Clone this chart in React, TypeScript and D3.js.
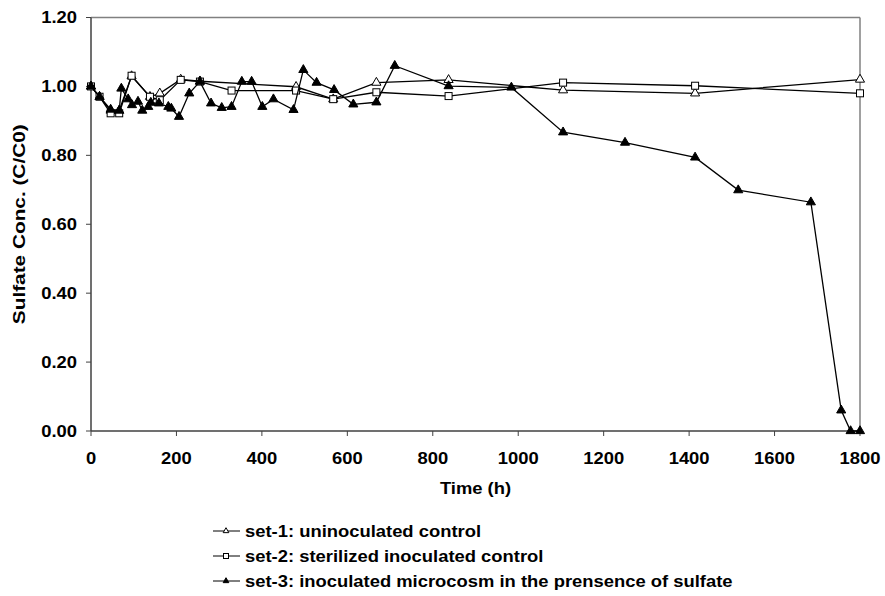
import React from "react";
import * as d3 from "d3";

// time (h) and C/C0 for each set
const set1Time = [0, 20, 46, 66, 95, 138, 161, 210, 255, 480, 567, 668, 837, 1105, 1414, 1800];
const set1Conc = [1.0, 0.97, 0.93, 0.93, 1.03, 0.97, 0.98, 1.02, 1.015, 0.999, 0.963, 1.011, 1.019, 0.989, 0.98, 1.02];

const set2Time = [0, 20, 46, 66, 95, 138, 161, 210, 255, 329, 480, 567, 668, 837, 1105, 1414, 1800];
const set2Conc = [1.0, 0.97, 0.922, 0.922, 1.031, 0.97, 0.96, 1.019, 1.014, 0.988, 0.988, 0.963, 0.983, 0.972, 1.011, 1.002, 0.98];

const set3Time = [0, 20, 46, 66, 71, 87, 96, 110, 120, 134, 140, 159, 181, 188, 206, 230, 255, 281, 306, 329, 353, 376, 401, 427, 474, 497, 528, 569, 614, 668, 711, 837, 984, 1105, 1250, 1414, 1515, 1685, 1756, 1778, 1800];
const set3Conc = [1.0, 0.97, 0.933, 0.93, 0.994, 0.963, 0.946, 0.956, 0.93, 0.941, 0.953, 0.951, 0.941, 0.936, 0.912, 0.98, 1.014, 0.951, 0.938, 0.941, 1.014, 1.014, 0.941, 0.963, 0.932, 1.048, 1.011, 0.99, 0.948, 0.954, 1.06, 1.001, 0.997, 0.867, 0.837, 0.794, 0.699, 0.664, 0.06, 0.0, 0.0];

const xTicks = [0, 200, 400, 600, 800, 1000, 1200, 1400, 1600, 1800];
const yTicks = [0, 0.2, 0.4, 0.6, 0.8, 1.0, 1.2];

const legendLabels = [
  "set-1: uninoculated control",
  "set-2: sterilized inoculated control",
  "set-3: inoculated microcosm in the prensence of sulfate",
];

const W = 885, H = 596;
const left = 91, right = 860, top = 17.5, bottom = 431;
const font = "'Liberation Sans', Arial, sans-serif";
const sx = 1.15; // the reference lettering is a bit wider than plain Arial

export default function App() {
  const x = d3.scaleLinear().domain([0, 1800]).range([left, right]);
  const y = d3.scaleLinear().domain([0, 1.2]).range([bottom, top]);

  const line = d3.line<[number, number]>()
    .x(d => x(d[0]))
    .y(d => y(d[1]));

  const series = [
    { pts: set1Time.map((t, i) => [t, set1Conc[i]] as [number, number]), kind: "tri-open" },
    { pts: set2Time.map((t, i) => [t, set2Conc[i]] as [number, number]), kind: "square" },
    { pts: set3Time.map((t, i) => [t, set3Conc[i]] as [number, number]), kind: "tri-filled" },
  ];

  const tri = d3.symbol(d3.symbolTriangle, 36)();
  const triSmall = d3.symbol(d3.symbolTriangle, 14)();

  const marker = (kind: string, small = false) => {
    if (kind === "square") {
      const s = small ? 5 : 7;
      return <rect x={-s / 2} y={-s / 2} width={s} height={s} fill="white" stroke="black" strokeWidth={1} />;
    }
    return (
      <path d={small ? triSmall! : tri!}
        fill={kind === "tri-filled" ? "black" : "white"}
        stroke="black" strokeWidth={1} />
    );
  };

  return (
    <svg width={W} height={H} style={{ position: "absolute", left: 0, top: 0, background: "white" }}
      fontFamily={font} fontWeight="bold" fontSize={16}>
      {/* plot frame */}
      <line x1={left} x2={right} y1={top} y2={top} stroke="#808080" strokeWidth={1.5} />
      <line x1={right} x2={right} y1={top} y2={bottom} stroke="#808080" strokeWidth={1.5} />

      {/* axes */}
      <line x1={left} x2={left} y1={top} y2={bottom} stroke="#404040" strokeWidth={1.5} />
      <line x1={left} x2={right} y1={bottom} y2={bottom} stroke="#404040" strokeWidth={1.5} />

      {yTicks.map(v => (
        <g key={v}>
          <line x1={left - 5} x2={left} y1={y(v)} y2={y(v)} stroke="#404040" strokeWidth={1} />
          <text transform={`translate(${left - 14},${y(v)}) scale(${sx},1)`} dy="0.35em" textAnchor="end">
            {v.toFixed(2)}
          </text>
        </g>
      ))}
      {xTicks.map(t => (
        <g key={t}>
          <line x1={x(t)} x2={x(t)} y1={bottom} y2={bottom + 5} stroke="#404040" strokeWidth={1} />
          <text transform={`translate(${x(t)},464) scale(${sx},1)`} textAnchor="middle">{t}</text>
        </g>
      ))}

      <text transform={`translate(${(left + right) / 2},494) scale(${sx},1)`} textAnchor="middle">Time (h)</text>
      <text transform={`translate(25,${(top + bottom) / 2}) rotate(-90) scale(1.3,1)`} textAnchor="middle">
        Sulfate Conc. (C/C0)
      </text>

      {/* series */}
      {series.map((s, i) => (
        <g key={i}>
          <path d={line(s.pts)!} fill="none" stroke="black" strokeWidth={1.3} />
          {s.pts.map((p, j) => (
            <g key={j} transform={`translate(${x(p[0])},${y(p[1])})`}>{marker(s.kind)}</g>
          ))}
        </g>
      ))}

      {/* legend */}
      {legendLabels.map((lab, i) => {
        const ly = 531 + i * 25;
        return (
          <g key={lab}>
            <line x1={213} x2={240} y1={ly} y2={ly} stroke="black" strokeWidth={1} />
            <g transform={`translate(226,${ly})`}>{marker(series[i].kind, true)}</g>
            <text transform={`translate(245,${ly}) scale(${sx},1)`} dy="0.35em">{lab}</text>
          </g>
        );
      })}
    </svg>
  );
}
